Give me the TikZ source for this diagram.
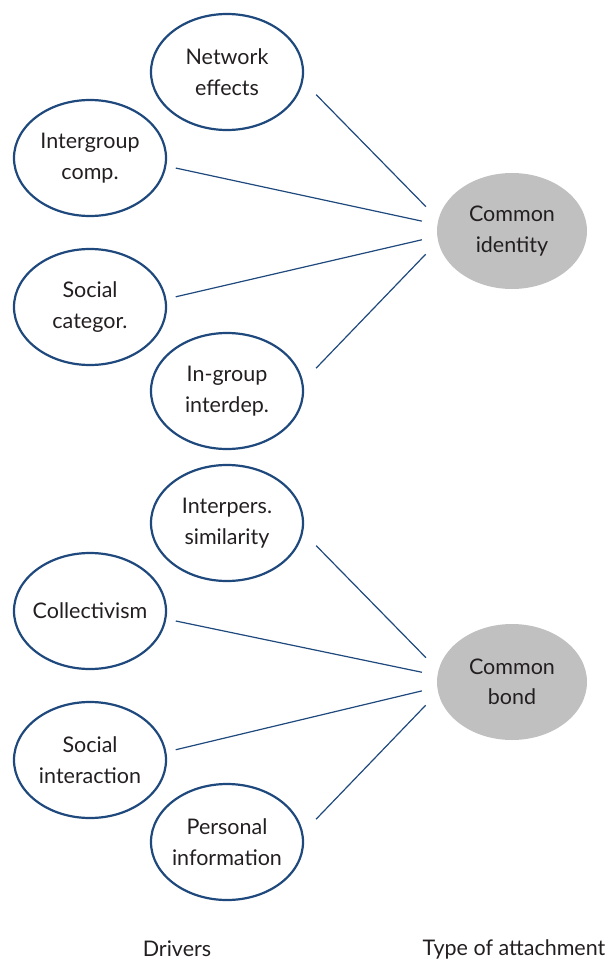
\documentclass[tikz,border=0pt]{standalone}
\usepackage{fontspec}
\setmainfont{Lato}
\usetikzlibrary{shapes.geometric}
\definecolor{rimblue}{RGB}{31,73,125}
\definecolor{inkgray}{RGB}{35,31,32}
\definecolor{hubgray}{RGB}{192,192,192}
\tikzset{
  % negative horizontal padding keeps every ellipse at its fixed size,
  % even around the long single-line label
  driver/.style={ellipse, draw=rimblue, line width=2.2pt, minimum width=152pt,
    minimum height=116pt, inner xsep=-8pt, inner ysep=0pt, align=center,
    text=inkgray, font=\fontsize{21.5}{30.5}\selectfont},
  hub/.style={ellipse, fill=hubgray, minimum width=150pt, minimum height=116pt,
    inner xsep=-8pt, inner ysep=0pt, align=center, text=inkgray,
    font=\fontsize{21.5}{30.5}\selectfont},
  link/.style={draw=rimblue, line width=1.2pt},
  caption/.style={text=inkgray, font=\fontsize{21.5}{24}\selectfont, inner sep=0pt}
}
\begin{document}
\begin{tikzpicture}[x=1pt,y=-1pt]
  \useasboundingbox (0,0) rectangle (605,961);

  % common identity group
  \node[hub] (ci) at (512,231) {Common\\identity};
  \node[driver] (net) at (227,72) {Network\\effects};
  \node[driver] (igc) at (90,158) {Intergroup\\comp.};
  \node[driver] (scat) at (90,307) {Social\\categor.};
  \node[driver] (igi) at (227,391) {In-group\\interdep.};

  \draw[link, shorten <=18.6pt, shorten >=17.8pt] (net.-7.6) -- (ci.171.3);
  \draw[link, shorten <=9.6pt, shorten >=15.7pt] (igc.-6) -- (ci.175.7);
  \draw[link, shorten <=9.6pt, shorten >=15.7pt] (scat.6) -- (ci.184.3);
  \draw[link, shorten <=18.6pt, shorten >=17.8pt] (igi.7.6) -- (ci.188.7);

  % common bond group
  \node[hub] (cb) at (512,682) {Common\\bond};
  \node[driver] (sim) at (227,523) {Interpers.\\similarity};
  \node[driver] (coll) at (90,611) {Collectivism};
  \node[driver] (sint) at (90,760) {Social\\interaction};
  \node[driver] (pinf) at (227,842) {Personal\\information};

  \draw[link, shorten <=18.6pt, shorten >=17.8pt] (sim.-7.6) -- (cb.171.3);
  \draw[link, shorten <=9.6pt, shorten >=15.7pt] (coll.-6) -- (cb.175.7);
  \draw[link, shorten <=9.6pt, shorten >=15.7pt] (sint.6) -- (cb.184.3);
  \draw[link, shorten <=18.6pt, shorten >=17.8pt] (pinf.7.6) -- (cb.188.7);

  % column captions
  \node[caption] (drv) at (177,949) {Drivers};
  \node[caption] (toa) at (514,949) {Type of attachment};
\end{tikzpicture}
\end{document}
